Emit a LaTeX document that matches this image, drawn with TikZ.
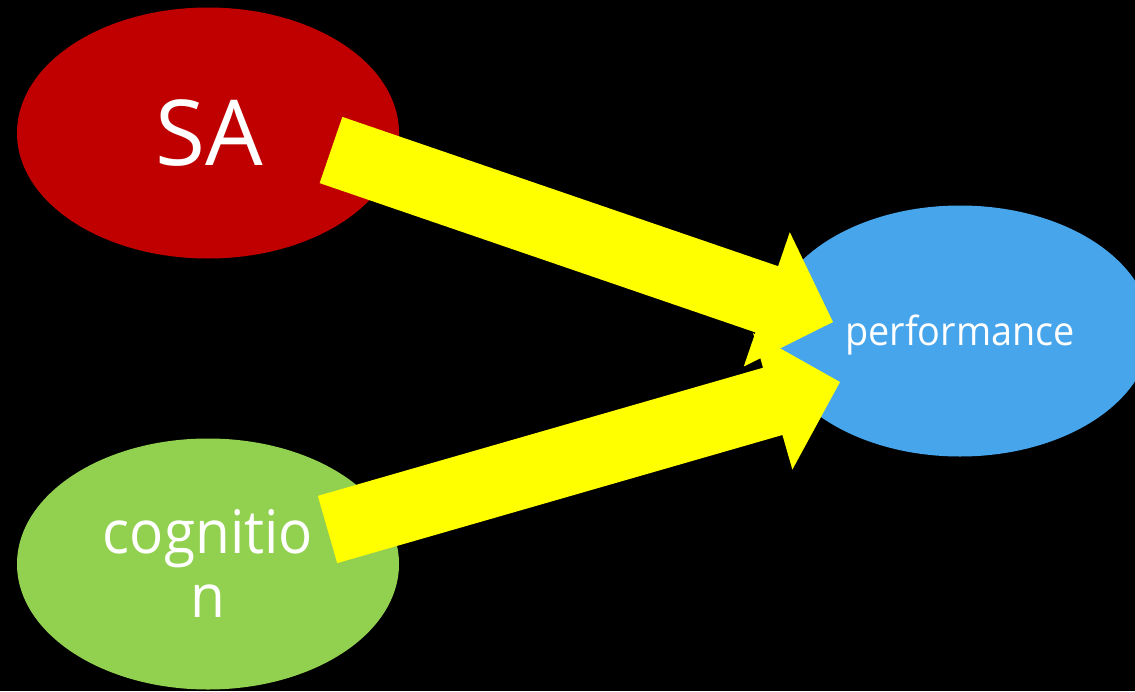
\documentclass[tikz,border=0pt]{standalone}
\usepackage{fontspec}
\setmainfont{Open Sans}
\newfontfamily\narrowsans[FakeStretch=0.945]{Open Sans}
\usetikzlibrary{shapes.geometric,calc}
\definecolor{saRed}{HTML}{C00000}
\definecolor{cogGreen}{HTML}{92D050}
\definecolor{perfBlue}{HTML}{46A5EB}
\definecolor{arrowYellow}{HTML}{FFFF00}
\tikzset{
  bubble/.style={ellipse, inner sep=0pt, minimum width=382pt, minimum height=251pt},
  bubbletext/.style={anchor=base, inner sep=0pt, text=white},
}
% wide block arrow from coordinate #1 to tip #2
\newcommand\blockarrow[2]{%
  \coordinate (#1-#2-s) at ($(#2)!70pt!(#1)$);
  \fill[arrowYellow] ($(#1)!35pt!90:(#2)$) -- ($(#1-#2-s)!35pt!90:(#2)$)
    -- ($(#1-#2-s)!71pt!90:(#2)$) -- (#2) -- ($(#1-#2-s)!71pt!-90:(#2)$)
    -- ($(#1-#2-s)!35pt!-90:(#2)$) -- ($(#1)!35pt!-90:(#2)$) -- cycle;}
\begin{document}
\begin{tikzpicture}[x=1pt,y=-1pt]
\fill[black] (0,0) rectangle (1135,691);
\useasboundingbox (0,0) rectangle (1135,691);
\clip (0,0) rectangle (1135,691);

\node[bubble, fill=saRed] (sa) at (208,133) {};
\node[bubble, fill=cogGreen] (cog) at (208,564) {};
\node[bubble, fill=perfBlue] (perf) at (960,331) {};

\node[bubbletext, font=\fontsize{91}{91}\selectfont] (saText) at (209,165) {SA};
\node[bubbletext, font=\narrowsans\fontsize{60}{60}\selectfont] (cogText1) at (208,553) {cognitio};
\node[bubbletext, font=\narrowsans\fontsize{60}{60}\selectfont] (cogText2) at (208,617) {n};
\node[bubbletext, font=\narrowsans\fontsize{40}{40}\selectfont] (perfText) at (960,345) {performance};

\coordinate (saOut) at (331,150);
\coordinate (perfInA) at (833,322);
\coordinate (cogOut) at (327.5,529.5);
\coordinate (perfInB) at (840,382);

\blockarrow{saOut}{perfInA}
\blockarrow{cogOut}{perfInB}
\end{tikzpicture}
\end{document}
